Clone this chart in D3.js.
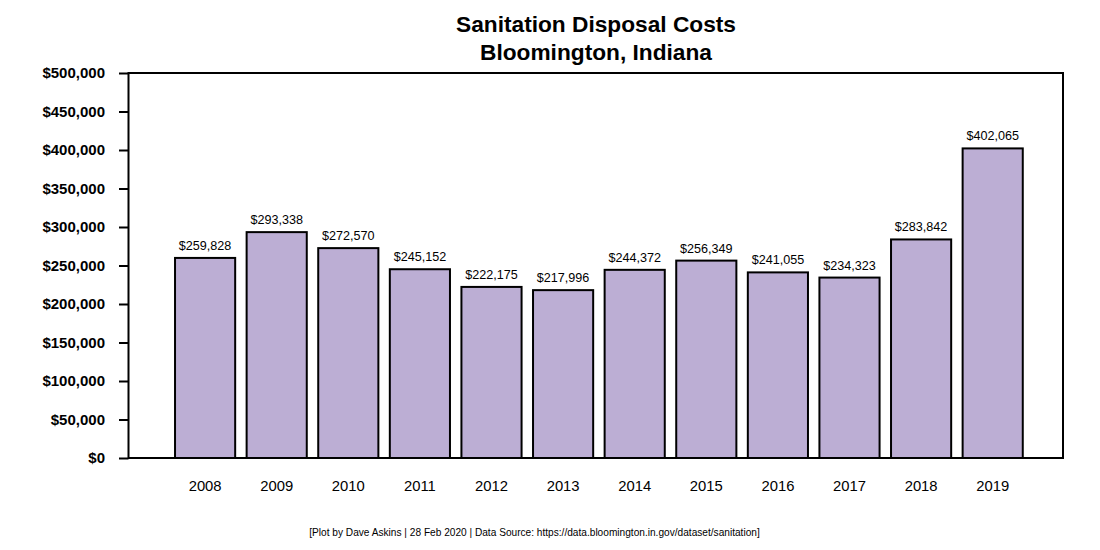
<!DOCTYPE html>
<html>
<head>
<meta charset="utf-8">
<script src="https://cdn.jsdelivr.net/npm/d3@7"></script>
<style>
  html, body { margin: 0; padding: 0; background: #fff; }
  svg { display: block; font-family: "Liberation Sans", Arial, Helvetica, sans-serif; }
</style>
</head>
<body>
<svg id="chart" width="1100" height="550"></svg>
<script>
const years = ["2008","2009","2010","2011","2012","2013","2014","2015","2016","2017","2018","2019"];
const costs = [259828, 293338, 272570, 245152, 222175, 217996, 244372, 256349, 241055, 234323, 283842, 402065];
const yTicks = [0, 50000, 100000, 150000, 200000, 250000, 300000, 350000, 400000, 450000, 500000];
const titleLines = ["Sanitation Disposal Costs", "Bloomington, Indiana"];
const footer = "[Plot by Dave Askins | 28 Feb 2020 | Data Source: https://data.bloomington.in.gov/dataset/sanitation]";

const svg = d3.select("#chart");
const frame = { left: 128.5, right: 1063, top: 73, bottom: 458 };

const x = d3.scaleBand()
  .domain(years)
  .range([169.3, 1028.5])
  .paddingInner(0.16)
  .paddingOuter(0.08);

const y = d3.scaleLinear()
  .domain([0, 500000])
  .range([frame.bottom, frame.top]);

const money = d3.format("$,");

// Title
svg.append("g").selectAll("text")
  .data(titleLines)
  .join("text")
  .attr("x", 596)
  .attr("y", (d, i) => 31.5 + i * 28.5)
  .attr("text-anchor", "middle")
  .attr("font-size", "22.7px")
  .attr("font-weight", "bold")
  .attr("fill", "#000")
  .text(d => d);

// Bars
svg.append("g").selectAll("rect")
  .data(costs)
  .join("rect")
  .attr("x", (d, i) => x(years[i]))
  .attr("y", d => y(d))
  .attr("width", x.bandwidth())
  .attr("height", d => y(0) - y(d))
  .attr("fill", "#bcaed4")
  .attr("stroke", "#000")
  .attr("stroke-width", 2);

// Value labels
svg.append("g").selectAll("text")
  .data(costs)
  .join("text")
  .attr("x", (d, i) => x(years[i]) + x.bandwidth() / 2)
  .attr("y", d => y(d) - 8)
  .attr("text-anchor", "middle")
  .attr("font-size", "12.6px")
  .attr("fill", "#000")
  .text(d => money(d));

// Frame
svg.append("rect")
  .attr("x", frame.left)
  .attr("y", frame.top)
  .attr("width", frame.right - frame.left)
  .attr("height", frame.bottom - frame.top)
  .attr("fill", "none")
  .attr("stroke", "#000")
  .attr("stroke-width", 2);

// Y axis
const yAxis = d3.axisLeft(y)
  .tickValues(yTicks)
  .tickFormat(money)
  .tickSize(9.5)
  .tickPadding(14);

const gy = svg.append("g")
  .attr("transform", `translate(${frame.left},0)`)
  .call(yAxis);
gy.select(".domain").remove();
gy.selectAll(".tick line").attr("stroke", "#000").attr("stroke-width", 2);
gy.selectAll(".tick text")
  .attr("font-size", "15px")
  .attr("font-weight", "bold")
  .attr("fill", "#000")
  .attr("font-family", null);

// X axis labels (no ticks)
const xAxis = d3.axisBottom(x).tickSize(0).tickPadding(22);
const gx = svg.append("g")
  .attr("transform", `translate(0,${frame.bottom})`)
  .call(xAxis);
gx.select(".domain").remove();
gx.selectAll(".tick text")
  .attr("font-size", "14.8px")
  .attr("fill", "#000")
  .attr("font-family", null);

// Footer
svg.append("text")
  .attr("x", 534.5)
  .attr("y", 535.5)
  .attr("text-anchor", "middle")
  .attr("font-size", "10.15px")
  .attr("fill", "#000")
  .text(footer);
</script>
</body>
</html>
